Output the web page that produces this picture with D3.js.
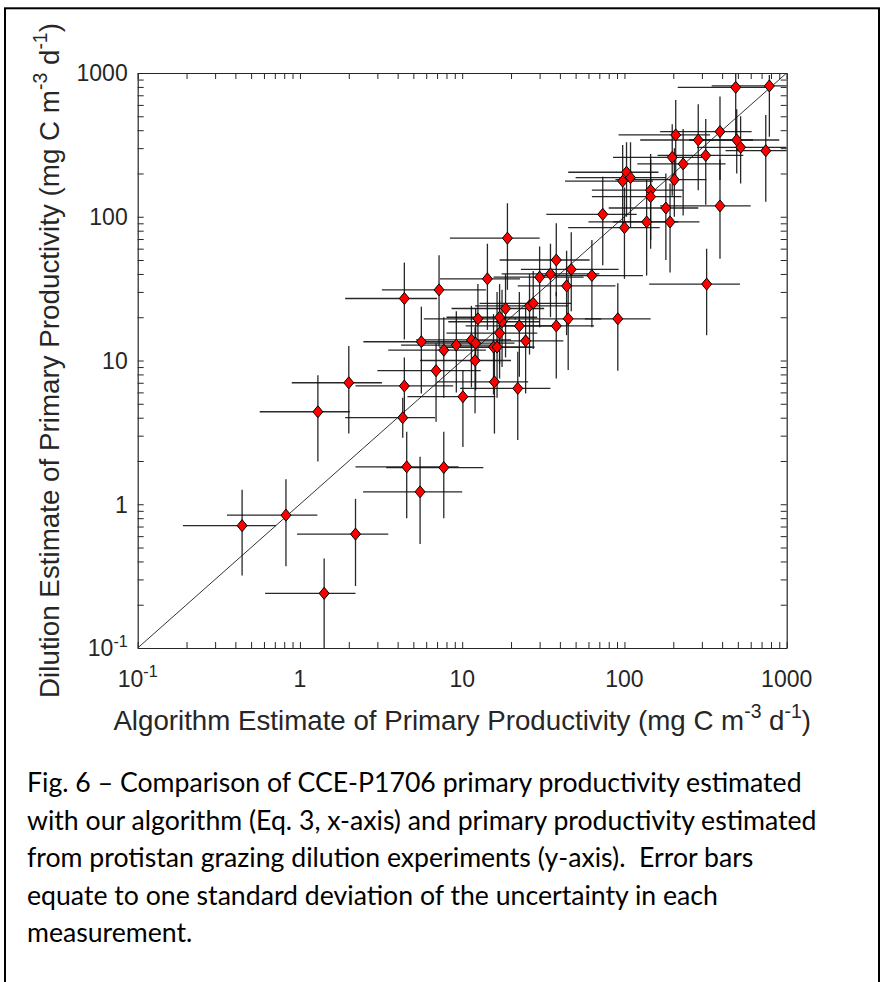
<!DOCTYPE html>
<html>
<head>
<meta charset="utf-8">
<script src="https://cdn.jsdelivr.net/npm/d3@7"></script>
<style>
	body { margin: 0; background: #fff; }
	svg { display: block; }
	.caption text { white-space: pre; }
</style>
</head>
<body>
<script>
// algorithm estimate (x) vs dilution estimate (y), mg C m-3 d-1
var xVals = [0.44,0.82,2.2,1.41,4.55,7.7,5.5,1.29,4.3,4.4,4.4,7.2,5.6,6.9,2.0,
	10.1,15.8,22,12,7.7,9.2,11.4,12.1,15.6,16.4,17,24.6,17.6,17,12.5,22.5,18.5,26,27.4,38,
	45,91,38,14.3,19,30,35,47,63,44,321,
	485,782,207,285,388,492,520,743,317,197,230,103,97.5,109,203,145,145,180,73.5,137,191,100,388];
var yVals = [0.71,0.84,0.62,0.24,1.82,1.8,1.22,4.4,4.0,6.65,27,31,13.5,8.5,7.0,
	5.6,7.1,6.4,10,11.8,12.8,13.9,13.2,12.4,12.4,15.5,13.7,18.6,20,19.5,17.4,23,24,25,17.4,
	19.5,19.5,50,37,71,38,40,43,39,33,34,
	795,813,371,342,391,342,304,288,267,259,233,204,177,187,181,153,138,115,104,92,92,84,119];

// one standard deviation bounds
var xLow = [0.19,0.355,0.96,0.61,2.2,3.4,2.45,0.565,1.9,2.2,1.9,3.2,2.46,3.0,0.89,
	4.6,7,9.7,5.5,3.5,4.2,5.2,5.5,7.2,7.6,8,11.5,8.2,8,5.8,10.5,8.6,12,12.8,18,
	21,57,17,7.3,8.4,15.6,17.5,23,30,22,142,
	213,345,92,125,166,250,280,420,160,85,120,45,43,50,88,63,63,80,33,60,85,45,166];
var xHigh = [0.71,1.28,3.5,2.2,9.5,13.5,10,2.03,6.8,8.8,7.0,14,12,13,3.2,
	16,25.5,35,20,14,16,20,21,27,28,29,42,30,29,21.5,38,32,45,47,65,
	72,145,61,22.7,30,56,70,92,130,88,515,
	789,1300,337,620,608,900,1000,1100,540,306,420,162,150,180,320,230,225,285,119,215,290,165,600];
var yLow = [0.32,0.37,0.27,0.08,0.8,0.8,0.53,1.98,2.9,3.9,14,12.5,5.9,3.75,3.1,
	2.5,3.1,2.8,4.3,5.5,6,6.5,6.2,5.8,5.5,7.5,5.9,9,9.5,10,7.7,10.5,11,12,7.5,
	8.6,8.5,28,16.3,31,17,20,22,17,15,15,
	342,360,190,153,180,200,170,127,121,140,102,100,81,85,100,69,60,50,46,39,41,37,51];
var yHigh = [1.26,1.49,1.09,0.42,3.2,3.2,2.14,7.9,5.5,10.5,48,54,23.7,13.2,12.6,
	8.6,12,11.5,17,20,22,24,23,21,30,26,23,31,34,34,30,40,40,42,30,
	38,34.5,90,65,124,62,65,78,69,58,60,
	1300,970,650,606,685,560,500,510,479,440,408,330,315,330,300,273,250,200,190,180,170,160,250];

var tickVals = [0.1, 1, 10, 100, 1000];
var tickBase = ["10", "1", "10", "100", "1000"];
var tickSup  = ["-1", "", "", "", ""];

var xTitle = [["Algorithm Estimate of Primary Productivity (mg C m", 0], ["-3", 1], [" d", 0], ["-1", 1], [")", 0]];
var yTitle = [["Dilution Estimate of Primary Productivity (mg C m", 0], ["-3", 1], [" d", 0], ["-1", 1], [")", 0]];

var captionLines = [
	"Fig. 6 \u2013 Comparison of CCE-P1706 primary productivity estimated",
	"with our algorithm (Eq. 3, x-axis) and primary productivity estimated",
	"from protistan grazing dilution experiments (y-axis).  Error bars",
	"equate to one standard deviation of the uncertainty in each",
	"measurement."
];

var width = 880, height = 982;
var plot = { left: 137.7, right: 786.7, top: 73, bottom: 648 };
var axisColor = "#262626";
var tickFont = "Liberation Sans, Arial, Helvetica, sans-serif";

var svg = d3.select("body").append("svg")
	.attr("width", width)
	.attr("height", height);

// page frame (bottom edge runs off the page)
svg.append("rect")
	.attr("x", 5).attr("y", 8.3)
	.attr("width", 874).attr("height", 1000)
	.attr("fill", "none")
	.attr("stroke", "#000")
	.attr("stroke-width", 2);

var x = d3.scaleLog().domain([0.1, 1000]).range([plot.left, plot.right]);
var y = d3.scaleLog().domain([0.1, 1000]).range([plot.bottom, plot.top]);

svg.append("clipPath").attr("id", "plotclip")
  .append("rect")
	.attr("x", plot.left).attr("y", plot.top)
	.attr("width", plot.right - plot.left)
	.attr("height", plot.bottom - plot.top);

var pts = xVals.map(function(d, i) {
	return { x: d, y: yVals[i], xl: xLow[i], xh: xHigh[i], yl: yLow[i], yh: yHigh[i] };
});

var inner = svg.append("g").attr("clip-path", "url(#plotclip)");

// 1:1 line
inner.append("line")
	.attr("x1", x(0.1)).attr("y1", y(0.1))
	.attr("x2", x(1000)).attr("y2", y(1000))
	.attr("stroke", "#333")
	.attr("stroke-width", 1);

// error bars
inner.selectAll(".hbar")
	.data(pts)
	.enter()
  .append("line")
	.attr("class", "hbar")
	.attr("x1", function(d) { return x(d.xl); })
	.attr("x2", function(d) { return x(d.xh); })
	.attr("y1", function(d) { return y(d.y); })
	.attr("y2", function(d) { return y(d.y); })
	.attr("stroke", "#111")
	.attr("stroke-opacity", 0.9)
	.attr("stroke-width", 1.3);

inner.selectAll(".vbar")
	.data(pts)
	.enter()
  .append("line")
	.attr("class", "vbar")
	.attr("x1", function(d) { return x(d.x); })
	.attr("x2", function(d) { return x(d.x); })
	.attr("y1", function(d) { return y(d.yl); })
	.attr("y2", function(d) { return y(d.yh); })
	.attr("stroke", "#111")
	.attr("stroke-opacity", 0.9)
	.attr("stroke-width", 1.3);

// diamond markers
var mw = 5, mh = 6;
svg.selectAll(".pt")
	.data(pts)
	.enter()
  .append("path")
	.attr("class", "pt")
	.attr("d", "M0," + (-mh) + "L" + mw + ",0L0," + mh + "L" + (-mw) + ",0Z")
	.attr("transform", function(d) { return "translate(" + x(d.x) + "," + y(d.y) + ")"; })
	.attr("fill", "#ff0000")
	.attr("stroke", "#000")
	.attr("stroke-width", 1);

// box with inward ticks on all four sides
var allTicks = x.ticks();
function styleAxis(g)
{
	g.select(".domain").attr("stroke", axisColor).attr("stroke-width", 1.2);
	g.selectAll(".tick line").attr("stroke", axisColor).attr("stroke-width", 1);
}
svg.append("g")
	.attr("transform", "translate(0," + plot.bottom + ")")
	.call(d3.axisBottom(x).tickValues(allTicks).tickFormat("").tickSizeInner(-6).tickSizeOuter(0))
	.call(styleAxis);
svg.append("g")
	.attr("transform", "translate(0," + plot.top + ")")
	.call(d3.axisTop(x).tickValues(allTicks).tickFormat("").tickSizeInner(-6).tickSizeOuter(0))
	.call(styleAxis);
svg.append("g")
	.attr("transform", "translate(" + plot.left + ",0)")
	.call(d3.axisLeft(y).tickValues(allTicks).tickFormat("").tickSizeInner(-6).tickSizeOuter(0))
	.call(styleAxis);
svg.append("g")
	.attr("transform", "translate(" + plot.right + ",0)")
	.call(d3.axisRight(y).tickValues(allTicks).tickFormat("").tickSizeInner(-6).tickSizeOuter(0))
	.call(styleAxis);

// text with superscripts
function richText(sel, parts)
{
	parts.forEach(function(p) {
		var t = sel.append("tspan").text(p[0]);
		if (p[1]) t.attr("font-size", "70%").attr("dy", "-0.6em");
		else if (sel.selectAll("tspan").size() > 1) t.attr("dy", "0.42em");
	});
}
function fitWidth(sel, base, target)
{
	var w = sel.node().getComputedTextLength();
	sel.attr("font-size", base * target / w);
}

var tickSize = 23;
var xl = svg.append("g").attr("font-family", tickFont).attr("fill", axisColor);
tickVals.forEach(function(v, i) {
	var t = xl.append("text")
		.attr("x", x(v))
		.attr("y", 687)
		.attr("text-anchor", "middle")
		.attr("font-size", tickSize);
	t.append("tspan").text(tickBase[i]);
	if (tickSup[i]) t.append("tspan").attr("font-size", "70%").attr("dy", "-0.6em").text(tickSup[i]);

	var u = xl.append("text")
		.attr("x", plot.left - 10)
		.attr("y", y(v))
		.attr("dy", "0.36em")
		.attr("text-anchor", "end")
		.attr("font-size", tickSize);
	u.append("tspan").text(tickBase[i]);
	if (tickSup[i]) u.append("tspan").attr("font-size", "70%").attr("dy", "-0.6em").text(tickSup[i]);
});

// axis titles
var xt = svg.append("text")
	.attr("x", (plot.left + plot.right) / 2)
	.attr("y", 730)
	.attr("text-anchor", "middle")
	.attr("font-family", tickFont)
	.attr("fill", axisColor)
	.attr("font-size", 26);
richText(xt, xTitle);
fitWidth(xt, 26, 698);

var yt = svg.append("text")
	.attr("transform", "translate(49," + ((plot.top + plot.bottom) / 2) + ") rotate(-90)")
	.attr("text-anchor", "middle")
	.attr("dy", "0.36em")
	.attr("font-family", tickFont)
	.attr("fill", axisColor)
	.attr("font-size", 26);
richText(yt, yTitle);
fitWidth(yt, 26, 675);

// figure caption
var cap = svg.append("g")
	.attr("class", "caption")
	.attr("font-family", "Lato, 'Open Sans', sans-serif")
	.attr("fill", "#000");
var capText = cap.selectAll("text")
	.data(captionLines)
	.enter()
  .append("text")
	.attr("x", 27)
	.attr("y", function(d, i) { return 792 + i * 37.5; })
	.attr("font-size", 26)
	.text(function(d) { return d; });
var w0 = capText.nodes()[0].getComputedTextLength();
capText.attr("font-size", 26 * 775 / w0);
</script>
</body>
</html>
